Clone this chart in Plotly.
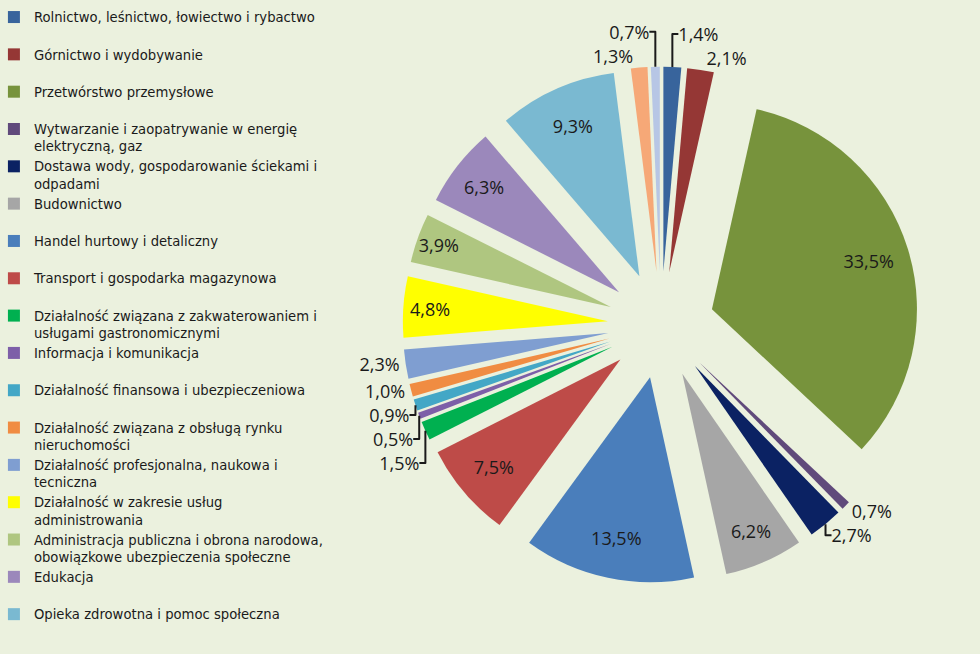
import plotly.graph_objects as go

# sections of the economy (legend wraps kept as in the picture)
categories = [
    "Rolnictwo, leśnictwo, łowiectwo i rybactwo",
    "Górnictwo i wydobywanie",
    "Przetwórstwo przemysłowe",
    "Wytwarzanie i zaopatrywanie w energię<br>elektryczną, gaz",
    "Dostawa wody, gospodarowanie ściekami i<br>odpadami",
    "Budownictwo",
    "Handel hurtowy i detaliczny",
    "Transport i gospodarka magazynowa",
    "Działalność związana z zakwaterowaniem i<br>usługami gastronomicznymi",
    "Informacja i komunikacja",
    "Działalność finansowa i ubezpieczeniowa",
    "Działalność związana z obsługą rynku<br>nieruchomości",
    "Działalność profesjonalna, naukowa i<br>tecniczna",
    "Działalność w zakresie usług<br>administrowania",
    "Administracja publiczna i obrona narodowa,<br>obowiązkowe ubezpieczenia społeczne",
    "Edukacja",
    "Opieka zdrowotna i pomoc społeczna",
    "Działalność związana z kulturą, rozrywką i rekreacją",
    "Pozostała działalność usługowa",
]
shares = [1.4, 2.1, 33.5, 0.7, 2.7, 6.2, 13.5, 7.5, 1.5, 0.5, 0.9, 1.0, 2.3, 4.8, 3.9, 6.3, 9.3, 1.3, 0.7]

colors = [
    "#38649C", "#953735", "#77933C", "#604A7B", "#0B2263", "#A6A6A6",
    "#4A7EBB", "#BE4B48", "#00B050", "#7D5FA8", "#43A7C6", "#F08C42",
    "#7F9ED1", "#FFFF00", "#AFC680", "#9B88BB", "#7AB9D1", "#F6A877", "#B7C6E5",
]

# only the first 17 entries fit in the legend of the original
legend_count = 17

bg = "#EBF1DE"
text_color = "#1a1a1a"
label_font = "Open Sans"
legend_font = "DejaVu Sans"

pct_text = [f"{v:.1f}%".replace(".", ",") for v in shares]
positions = ["inside" if v >= 3.9 else "outside" for v in shares]

pie_domain = dict(x=[0.4109, 0.9381], y=[0.1081, 0.898])
explode = 0.26

fig = go.Figure()

# the slices
fig.add_trace(
    go.Pie(
        labels=categories,
        values=shares,
        textinfo="none",
        marker=dict(colors=colors, line=dict(width=0)),
        pull=explode,
        sort=False,
        direction="clockwise",
        rotation=0,
        showlegend=False,
        domain=pie_domain,
        hoverinfo="label+percent",
    )
)

# transparent ring on top, only to push the data labels towards the rim
fig.add_trace(
    go.Pie(
        labels=categories,
        values=shares,
        text=pct_text,
        textinfo="text",
        textposition=positions,
        insidetextorientation="horizontal",
        textfont=dict(family=label_font, size=18, color=text_color),
        marker=dict(colors=["rgba(0,0,0,0)"] * len(shares), line=dict(width=0)),
        hole=0.6,
        pull=explode,
        sort=False,
        direction="clockwise",
        rotation=0,
        showlegend=False,
        domain=pie_domain,
        hoverinfo="skip",
    )
)

# legend-only trace (tiny, hidden in the empty middle of the exploded pie)
legend_labels = [c if "<br>" in c else c + "<br> " for c in categories[:legend_count]]
fig.add_trace(
    go.Pie(
        labels=legend_labels,
        values=shares[:legend_count],
        textinfo="none",
        marker=dict(colors=colors[:legend_count], line=dict(width=0)),
        sort=False,
        showlegend=True,
        hoverinfo="skip",
        domain=dict(x=[0.6744, 0.6746], y=[0.5030, 0.5032]),
    )
)

fig.update_layout(
    width=980,
    height=654,
    margin=dict(l=0, r=0, t=0, b=0, autoexpand=False),
    paper_bgcolor=bg,
    plot_bgcolor=bg,
    font=dict(family=label_font, color=text_color),
    uniformtext=dict(minsize=18, mode="show"),
    legend=dict(
        xref="container",
        yref="container",
        x=0.004,
        y=0.997,
        xanchor="left",
        yanchor="top",
        valign="top",
        indentation=-10,
        maxheight=1.0,
        font=dict(family=legend_font, size=13.2, color=text_color),
        bgcolor="rgba(0,0,0,0)",
        traceorder="normal",
    ),
)

fig.write_html(
    "out.html",
    config={"displayModeBar": False},
    post_script="document.body.style.margin='0';",
)
